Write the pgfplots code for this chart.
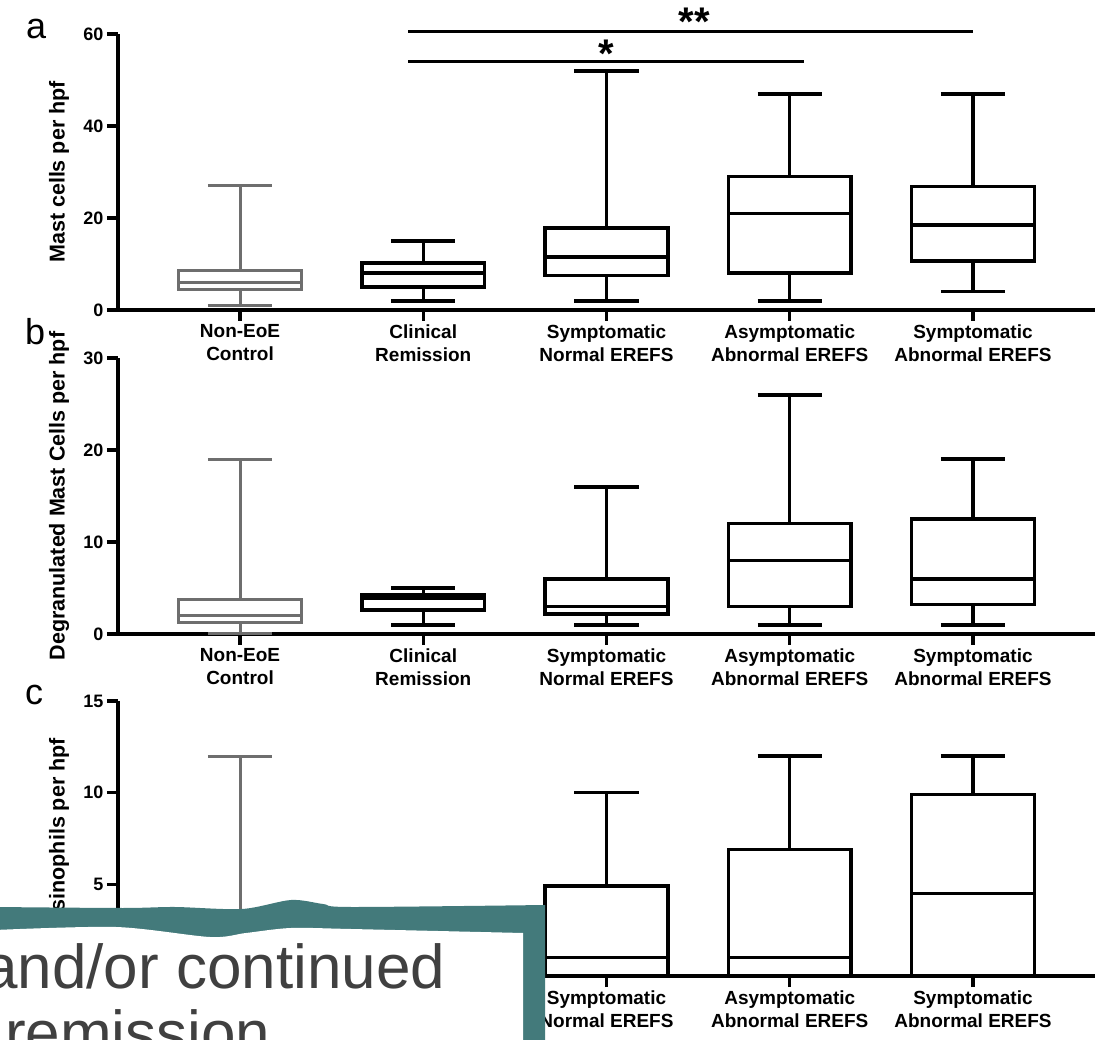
\documentclass[border=0pt]{standalone}
\usepackage{fontspec}
\setmainfont{Liberation Sans}
\usepackage{pgfplots}
\pgfplotsset{compat=1.18}
\usepgfplotslibrary{statistics}
\definecolor{teal2}{RGB}{67,122,123}
\definecolor{ctrl}{RGB}{110,110,110}
\definecolor{ovtext}{RGB}{64,64,64}
\pgfplotsset{
  panel/.style={
    scale only axis, width=977pt, clip=false,
    xmin=-0.666, xmax=4.666,
    axis x line*=bottom, axis y line*=left,
    axis line style={line width=3.5pt, black, -},
    tick style={line width=3.5pt, black},
    major tick length=11pt, tick align=outside,
    xtick={0,1,2,3,4},
    xticklabels={{Non-EoE\\Control},{Clinical\\Remission},{Symptomatic\\Normal EREFS},{Asymptomatic\\Abnormal EREFS},{Symptomatic\\Abnormal EREFS}},
    xticklabel style={align=center, font=\bfseries\fontsize{19}{23}\selectfont},
    yticklabel style={font=\bfseries\fontsize{18}{21}\selectfont},
    /pgf/number format/assume math mode=true,
    every axis y label/.style={at={(axis description cs:-0.0604,0.5)}, rotate=90, anchor=center, font=\bfseries\fontsize{21.5}{24}\selectfont},
    anchor=south west,
    boxplot/draw direction=y,
    boxplot/box extend=0.67, boxplot/whisker extend=0.35,
  },
  bx/.style={line width=3.5pt, black, solid, mark=none,
    boxplot/every box/.style={line width=3.5pt},
    boxplot/every whisker/.style={line width=3.5pt},
    boxplot/every median/.style={line width=3.5pt}},
  gx/.style={line width=3pt, ctrl, solid, mark=none,
    boxplot/every box/.style={line width=3pt},
    boxplot/every whisker/.style={line width=3pt},
    boxplot/every median/.style={line width=3pt}},
}
\begin{document}
\begin{tikzpicture}
\useasboundingbox (0pt,0pt) rectangle (1097pt,1039pt);
% ---------------- panel a
\begin{axis}[panel, at={(118pt,729pt)}, height=276pt, ymin=0, ymax=60, ytick={0,20,40,60}, ylabel={Mast cells per hpf}]
\addplot[gx, boxplot prepared={draw position=0, lower whisker=1, lower quartile=4.4, median=5.9, upper quartile=8.6, upper whisker=27}] coordinates {};
\addplot[bx, boxplot prepared={draw position=1, lower whisker=2, lower quartile=5, median=8, upper quartile=10.2, upper whisker=15}] coordinates {};
\addplot[bx, boxplot prepared={draw position=2, lower whisker=2, lower quartile=7.5, median=11.5, upper quartile=17.8, upper whisker=52}] coordinates {};
\addplot[bx, boxplot prepared={draw position=3, lower whisker=2, lower quartile=8, median=21, upper quartile=29, upper whisker=47}] coordinates {};
\addplot[bx, boxplot prepared={draw position=4, lower whisker=4, lower quartile=10.6, median=18.5, upper quartile=26.8, upper whisker=47}] coordinates {};
\addplot[line width=3.5pt, black, mark=none] coordinates {(0.917,54) (3.08,54)};
\addplot[line width=3.5pt, black, mark=none] coordinates {(0.917,60.5) (4.0,60.5)};
\node[font=\bfseries\fontsize{40}{40}\selectfont, anchor=base] at (axis cs:2.0,52.7) {*};
\node[font=\bfseries\fontsize{40}{40}\selectfont, anchor=base] at (axis cs:2.48,59.6) {**};
\end{axis}
% ---------------- panel b
\begin{axis}[panel, at={(118pt,405pt)}, height=276pt, ymin=0, ymax=30, ytick={0,10,20,30}, ylabel={Degranulated Mast Cells per hpf}]
\addplot[gx, boxplot prepared={draw position=0, lower whisker=0, lower quartile=1.2, median=2, upper quartile=3.8, upper whisker=19}] coordinates {};
\addplot[bx, boxplot prepared={draw position=1, lower whisker=1, lower quartile=2.6, median=3.9, upper quartile=4.3, upper whisker=5}] coordinates {};
\addplot[bx, boxplot prepared={draw position=2, lower whisker=1, lower quartile=2.2, median=3, upper quartile=6, upper whisker=16}] coordinates {};
\addplot[bx, boxplot prepared={draw position=3, lower whisker=1, lower quartile=3, median=8, upper quartile=12, upper whisker=26}] coordinates {};
\addplot[bx, boxplot prepared={draw position=4, lower whisker=1, lower quartile=3.2, median=6, upper quartile=12.5, upper whisker=19}] coordinates {};
\end{axis}
% ---------------- panel c
\begin{axis}[panel, at={(118pt,63pt)}, height=275pt, ymin=0, ymax=15, ytick={0,5,10,15}, ylabel={Eosinophils per hpf}]
\addplot[gx, boxplot prepared={draw position=0, lower whisker=0, lower quartile=0, median=0.5, upper quartile=2, upper whisker=12}] coordinates {};
\addplot[bx, boxplot prepared={draw position=1, lower whisker=0, lower quartile=0, median=0, upper quartile=1, upper whisker=3}] coordinates {};
\addplot[bx, boxplot prepared={draw position=2, lower whisker=0, lower quartile=0, median=1, upper quartile=4.9, upper whisker=10}] coordinates {};
\addplot[bx, boxplot prepared={draw position=3, lower whisker=0, lower quartile=0, median=1, upper quartile=6.9, upper whisker=12}] coordinates {};
\addplot[bx, boxplot prepared={draw position=4, lower whisker=0, lower quartile=0, median=4.5, upper quartile=9.9, upper whisker=12}] coordinates {};
\end{axis}
\begin{scope}[x=1pt,y=1pt]
% panel letters
\node[font=\fontsize{36}{36}\selectfont, anchor=base west, inner sep=0] at (26,1000) {a};
\node[font=\fontsize{36}{36}\selectfont, anchor=base west, inner sep=0] at (25,694) {b};
\node[font=\fontsize{36}{36}\selectfont, anchor=base west, inner sep=0] at (25,334) {c};
% overlay
\clip (0,0) rectangle (1097,1039);
\fill[teal2] plot[smooth] coordinates {(-5,132) (123,131) (175,132) (242,130) (291,139) (323,135) (351,132) (545,134)} -- (545,-10) -- (-5,-10) -- cycle;
\fill[white] plot[smooth] coordinates {(-5,109) (116,112) (210,102) (246,106) (291,111) (351,110) (523,106)} -- (523,-10) -- (-5,-10) -- cycle;
\node[anchor=base west, inner sep=0, text=ovtext, font=\fontsize{62}{66}\selectfont] at (-17,51) {and/or continued};
\node[anchor=base west, inner sep=0, text=ovtext, font=\fontsize{62}{66}\selectfont] at (5,-15) {remission};
\end{scope}
\end{tikzpicture}
\end{document}
